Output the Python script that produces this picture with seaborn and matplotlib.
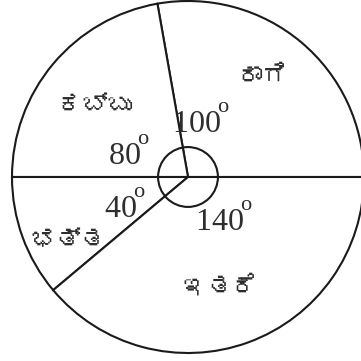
import matplotlib
matplotlib.use("Agg")
import matplotlib.pyplot as plt
from matplotlib import font_manager, _mathtext
from matplotlib.ft2font import FT2Font
from matplotlib.patches import Circle
import seaborn as sns

# Crop shares in degrees (sum to 360)
crops = ["ರಾಗಿ", "ಕಬ್ಬು", "ಭತ್ತ", "ಇತರೆ"]
degrees = [100, 80, 40, 140]

sns.set_theme(style="white")
plt.rcParams["font.family"] = ["Liberation Serif", "DejaVu Serif"]
plt.rcParams["mathtext.fontset"] = "custom"
plt.rcParams["mathtext.rm"] = "Liberation Serif"
plt.rcParams["mathtext.it"] = "Liberation Serif:italic"

# degree "o" sits just above the digits and tucks in close to them
_mathtext.FontConstantsBase.sup1 = 1.3
_mathtext.FontConstantsBase.delta = -0.25


def kannada_font():
    """Return a FontProperties for an installed font that has Kannada glyphs."""
    for path in sorted(font_manager.findSystemFonts()):
        try:
            if 0x0C95 in FT2Font(path).get_charmap():
                return font_manager.FontProperties(fname=path)
        except Exception:
            continue
    return font_manager.FontProperties(family=["Noto Sans", "DejaVu Sans"])


kfont = kannada_font()

fig = plt.figure(figsize=(3.61, 3.61), dpi=100)
ax = fig.add_axes([0, 0, 1, 1])

ink = "#1a1a1a"
txt = "#2e2e2e"
ax.pie(degrees, colors=["white"] * len(degrees), startangle=0,
       counterclock=True, radius=1.0,
       wedgeprops=dict(edgecolor=ink, linewidth=1.5))

# small angle marker at the centre
ax.add_patch(Circle((0, 0), 0.17, fill=False, edgecolor=ink, linewidth=1.5))

# crop names inside their sectors
name_pos = {"ರಾಗಿ": (0.42, 0.57), "ಕಬ್ಬು": (-0.53, 0.41),
            "ಭತ್ತ": (-0.68, -0.36), "ಇತರೆ": (0.18, -0.62)}
for name in crops:
    x, y = name_pos[name]
    ax.text(x, y, name, fontproperties=kfont, fontsize=18, color=txt,
            ha="center", va="center")

# angle of each sector, with a raised "o" for degrees
angle_pos = {100: (-0.091, 0.256), 80: (-0.455, 0.074),
             40: (-0.48, -0.227), 140: (0.04, -0.30)}
for d in degrees:
    x, y = angle_pos[d]
    ax.text(x, y, rf"$\mathrm{{{d}^{{o}}}}$", fontsize=23, color=txt,
            ha="left", va="baseline")

ax.set_xlim((0 - 188) / 176, (361 - 188) / 176)
ax.set_ylim((177 - 361) / 176, 177 / 176)
ax.set_aspect("equal")
ax.set_axis_off()

fig.savefig("out.png", dpi=100, facecolor="white")
